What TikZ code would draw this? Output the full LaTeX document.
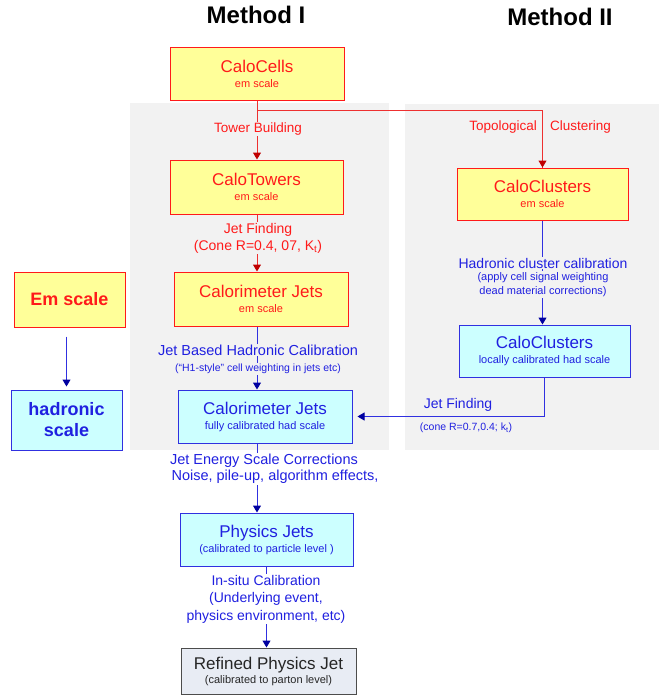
\documentclass[tikz,border=0pt]{standalone}
\usepackage{fontspec}
\setmainfont{Liberation Sans}
\usetikzlibrary{arrows.meta}
\definecolor{panel}{HTML}{F2F2F2}
\definecolor{yel}{HTML}{FFFF99}
\definecolor{cyn}{HTML}{CCFFFF}
\definecolor{rd}{HTML}{FF1A1A}
\definecolor{rdl}{HTML}{EE3030}
\definecolor{rdark}{HTML}{C00000}
\definecolor{bl}{HTML}{2020E0}
\definecolor{bll}{HTML}{3030E0}
\definecolor{bdark}{HTML}{0000A0}
\definecolor{refc}{HTML}{E8ECF4}
\newcommand\bigt{\fontsize{17}{19}\selectfont}
\newcommand\smt{\fontsize{11}{13}\selectfont}
\tikzset{
  embox/.style={draw=rd, fill=yel, line width=1pt, text=rd, align=center, inner sep=0pt},
  hadbox/.style={draw=bll, fill=cyn, line width=1pt, text=bl, align=center, inner sep=0pt},
  refbox/.style={draw=black!70, fill=refc, line width=1pt, text=black!85, align=center, inner sep=0pt},
  rline/.style={draw=rdl, line width=1pt},
  rarrow/.style={rline, -{Triangle[width=8pt,length=7pt,color=rdark]}},
  bline/.style={draw=bll, line width=1pt},
  barrow/.style={bline, -{Triangle[width=8pt,length=7pt,color=bdark]}},
  rlabel/.style={text=rd, align=center, inner sep=1pt},
  blabel/.style={text=bl, align=center, inner sep=1pt},
  title/.style={font=\fontsize{24}{26}\selectfont\bfseries, inner sep=0pt}
}
\begin{document}
\begin{tikzpicture}[x=1pt,y=-1pt]
\useasboundingbox[fill=white] (0,0) rectangle (659,696);
% panels
\fill[panel] (130,103) rectangle (389,450);
\fill[panel] (405,104) rectangle (659,450);
% titles
\node[title] (t1) at (256,15) {Method I};
\node[title] (t2) at (560,17) {Method II};
% boxes
\node[embox, minimum width=174, minimum height=53] (cells) at (257,73.5) {\bigt CaloCells\\[3pt]\smt em scale};
\node[embox, minimum width=173, minimum height=54] (towers) at (256.5,187) {\bigt CaloTowers\\[3pt]\smt em scale};
\node[embox, minimum width=174, minimum height=54] (calj) at (261,299) {\bigt Calorimeter Jets\\[3pt]\smt em scale};
\node[hadbox, minimum width=174, minimum height=53] (cjets) at (265,416.5) {\bigt Calorimeter Jets\\[3pt]\smt fully calibrated had scale};
\node[hadbox, minimum width=173, minimum height=53] (pjets) at (266.5,539.5) {\bigt Physics Jets\\[3pt]\smt (calibrated to particle level )};
\node[refbox, minimum width=175, minimum height=46] (refjet) at (268.5,671) {\bigt Refined Physics Jet\\[2pt]\smt (calibrated to parton level)};
\node[embox, minimum width=171, minimum height=52] (clus1) at (542.5,194) {\bigt CaloClusters\\[3pt]\smt em scale};
\node[hadbox, minimum width=171, minimum height=52] (clus2) at (544.5,351) {\bigt CaloClusters\\[3pt]\smt locally calibrated had scale};
\node[embox, minimum width=111, minimum height=55, font=\fontsize{18}{21}\selectfont\bfseries] (em) at (69.5,299.5) {Em scale};
\node[hadbox, minimum width=111, minimum height=60, font=\fontsize{18}{21}\selectfont\bfseries] (hs) at (66.5,420) {hadronic\\scale};
% connectors
\coordinate (br) at (257,110);
\draw[rarrow] (cells.south) -- (cells.south |- towers.north);
\draw[rline] (br) -| (clus1.north);
\draw[rarrow] (clus1.north |- br) -- (clus1.north);
\draw[rarrow] (towers.south -| cells.south) -- (calj.north -| cells.south);
\draw[barrow] (calj.south -| cells.south) -- (cjets.north -| cells.south);
\draw[barrow] (cjets.south -| cells.south) -- (pjets.north -| cells.south);
\draw[barrow] (pjets.south) -- (pjets.south |- refjet.north);
\draw[barrow] (clus1.south) -- (clus1.south |- clus2.north);
\draw[barrow, shorten >=5pt] (clus2.south) |- (cjets.east);
\draw[barrow, shorten <=9pt, shorten >=3pt] (hs.north |- em.south) -- (hs.north);
% labels
\node[rlabel, fill=panel, font=\fontsize{13.5}{16}\selectfont] (l1) at (258,129) {Tower Building};
\node[rlabel, fill=panel, font=\fontsize{14}{17}\selectfont] (l2) at (258,238) {Jet Finding\\(Cone R=0.4, 07, K\textsubscript{t})};
\node[rlabel, anchor=east, font=\fontsize{13.5}{16}\selectfont] (l3a) at (538,127) {Topological};
\node[rlabel, anchor=west, font=\fontsize{13.5}{16}\selectfont] (l3b) at (549,127) {Clustering};
\node[blabel, fill=panel, font=\fontsize{14.5}{17}\selectfont] (l4) at (258,350) {Jet Based Hadronic Calibration};
\node[blabel, fill=panel, font=\fontsize{10.5}{13}\selectfont] (l4b) at (258,369) {(“H1-style” cell weighting in jets etc)};
\node[blabel, fill=panel, font=\fontsize{14}{17}\selectfont] (l5) at (543,263) {Hadronic cluster calibration};
\node[blabel, fill=panel, font=\fontsize{11}{14.5}\selectfont] (l5b) at (543,284.5) {(apply cell signal weighting\\dead material corrections)};
\node[blabel, font=\fontsize{14}{17}\selectfont] (l6) at (458,405) {Jet Finding};
\node[blabel, font=\fontsize{10.5}{13}\selectfont] (l6b) at (466,428) {(cone R=0.7,0.4; k\textsubscript{t})};
\node[blabel, fill=white, font=\fontsize{14.5}{17}\selectfont] (l7) at (264,461) {Jet Energy Scale Corrections};
\node[blabel, fill=white, font=\fontsize{14.5}{17}\selectfont] (l7b) at (275,477) {Noise, pile-up, algorithm effects,};
\node[blabel, fill=white, font=\fontsize{14}{17.5}\selectfont] (l8) at (266,599) {In-situ Calibration\\(Underlying event,\\physics environment, etc)};
\end{tikzpicture}
\end{document}
